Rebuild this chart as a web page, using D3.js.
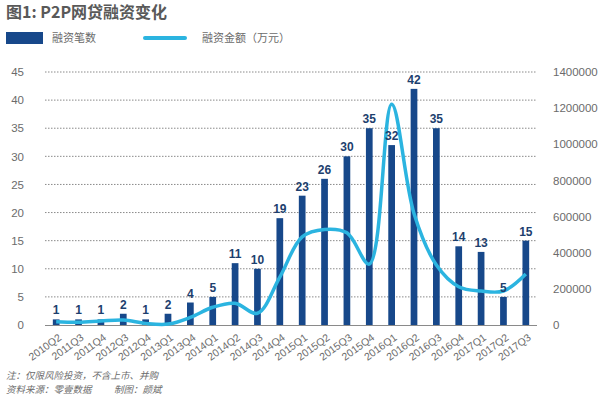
<!DOCTYPE html>
<html>
<head>
<meta charset="utf-8">
<script src="https://cdn.jsdelivr.net/npm/d3@7"></script>
<style>
  body { margin: 0; background: #fff; }
  svg { display: block; }
</style>
</head>
<body>
<svg id="chart" width="600" height="397"></svg>
<script>
// data
var quarters = ["2010Q2", "2011Q3", "2011Q4", "2012Q3", "2012Q4", "2013Q1", "2013Q4",
                "2014Q1", "2014Q2", "2014Q3", "2014Q4", "2015Q1", "2015Q2", "2015Q3",
                "2015Q4", "2016Q1", "2016Q2", "2016Q3", "2016Q4", "2017Q1", "2017Q2", "2017Q3"];
var dealCounts = [1, 1, 1, 2, 1, 2, 4, 5, 11, 10, 19, 23, 26, 30, 35, 32, 42, 35, 14, 13, 5, 15];
var dealAmounts = [18000, 15000, 22000, 28000, 9000, 5000, 42000, 98000, 120000, 65000,
                   265000, 488000, 529000, 510000, 337000, 1221000, 617000, 332000,
                   212000, 188000, 188000, 282000];
var leftTicks = [0, 5, 10, 15, 20, 25, 30, 35, 40, 45];
var rightTicks = [0, 200000, 400000, 600000, 800000, 1000000, 1200000, 1400000];

// options
var barColor = "#17488a";
var lineColor = "#2bb4e0";
var textGray = "#6b6b6b";
var numFont = "'Liberation Sans', Arial, 'Noto Sans CJK SC', sans-serif";
var cjkFont = "'Noto Sans CJK SC', 'Liberation Sans', sans-serif";
var plot = { left: 45, right: 537, top: 72, bottom: 325 };

var svg = d3.select("#chart");

var x = d3.scaleBand()
    .domain(quarters)
    .range([plot.left, plot.right])
    .paddingInner(0.7)
    .paddingOuter(0.35);

var yLeft = d3.scaleLinear().domain([0, 45]).range([plot.bottom, plot.top]);
var yRight = d3.scaleLinear().domain([0, 1400000]).range([plot.bottom, plot.top]);

var rows = quarters.map(function(q, i) {
  return { q: q, n: dealCounts[i], amt: dealAmounts[i] };
});

// title
svg.append("text")
    .attr("x", 6).attr("y", 18)
    .style("font-family", cjkFont)
    .style("font-weight", "bold")
    .style("font-size", "16px")
    .style("fill", "#595959")
    .text("图1: P2P网贷融资变化");

// legend
svg.append("rect")
    .attr("x", 6).attr("y", 32).attr("width", 37).attr("height", 12)
    .style("fill", barColor);
svg.append("text")
    .attr("x", 52).attr("y", 42)
    .style("font-family", cjkFont).style("font-size", "11px").style("fill", textGray)
    .text("融资笔数");
svg.append("line")
    .attr("x1", 145).attr("x2", 185).attr("y1", 38).attr("y2", 38)
    .style("stroke", lineColor).style("stroke-width", 4).style("stroke-linecap", "round");
svg.append("text")
    .attr("x", 202).attr("y", 42)
    .style("font-family", cjkFont).style("font-size", "11px").style("fill", textGray)
    .text("融资金额（万元）");

// dotted gridlines
svg.append("g")
  .selectAll("line")
  .data(leftTicks.filter(function(d) { return d > 0; }))
  .join("line")
    .attr("x1", plot.left).attr("x2", plot.right)
    .attr("y1", function(d) { return yLeft(d); })
    .attr("y2", function(d) { return yLeft(d); })
    .style("stroke", "#8a8a8a")
    .style("stroke-width", 1)
    .style("stroke-dasharray", "1.5,1.5");

// left axis
var leftAxis = svg.append("g")
    .attr("transform", "translate(" + (plot.left - 21) + ",0)")
    .call(d3.axisLeft(yLeft).tickValues(leftTicks).tickSize(0).tickPadding(0));
leftAxis.select(".domain").remove();
leftAxis.selectAll("text")
    .style("font-family", numFont).style("font-size", "11.5px").style("fill", textGray);

// right axis
var rightAxis = svg.append("g")
    .attr("transform", "translate(" + (plot.right + 16) + ",0)")
    .call(d3.axisRight(yRight).tickValues(rightTicks).tickFormat(d3.format("d")).tickSize(0).tickPadding(0));
rightAxis.select(".domain").remove();
rightAxis.selectAll("text")
    .style("font-family", numFont).style("font-size", "11.5px").style("fill", textGray);

// bars
svg.append("g")
  .selectAll("rect")
  .data(rows)
  .join("rect")
    .attr("x", function(d) { return x(d.q); })
    .attr("y", function(d) { return yLeft(d.n); })
    .attr("width", x.bandwidth())
    .attr("height", function(d) { return yLeft(0) - yLeft(d.n); })
    .style("fill", barColor);

// baseline
svg.append("line")
    .attr("x1", plot.left).attr("x2", plot.right)
    .attr("y1", plot.bottom + 0.5).attr("y2", plot.bottom + 0.5)
    .style("stroke", "#8a8a8a").style("stroke-width", 1);

// amount line
var line = d3.line()
    .x(function(d) { return x(d.q) + x.bandwidth() / 2; })
    .y(function(d) { return yRight(d.amt); })
    .curve(d3.curveCatmullRom.alpha(0.5));

svg.append("path")
    .datum(rows)
    .attr("d", line)
    .style("fill", "none")
    .style("stroke", lineColor)
    .style("stroke-width", 3.5)
    .style("stroke-linejoin", "round");

// bar value labels
svg.append("g")
  .selectAll("text")
  .data(rows)
  .join("text")
    .attr("x", function(d) { return x(d.q) + x.bandwidth() / 2; })
    .attr("y", function(d) { return yLeft(d.n) - 5; })
    .attr("text-anchor", "middle")
    .style("font-family", numFont)
    .style("font-weight", "bold")
    .style("font-size", "12px")
    .style("fill", "#1d3f6e")
    .text(function(d) { return d.n; });

// x labels
svg.append("g")
  .selectAll("text")
  .data(quarters)
  .join("text")
    .attr("transform", function(d) {
      return "translate(" + (x(d) + x.bandwidth() / 2 + 6) + "," + (plot.bottom + 14) + ") rotate(-36)";
    })
    .attr("text-anchor", "end")
    .style("font-family", numFont)
    .style("font-size", "10.5px")
    .style("fill", textGray)
    .text(function(d) { return d; });

// footnotes
var notes = svg.append("g")
    .style("font-family", cjkFont).style("font-size", "9.5px").style("font-style", "italic")
    .style("fill", textGray);
notes.append("text").attr("x", 6).attr("y", 379).text("注：仅限风险投资，不含上市、并购");
notes.append("text").attr("x", 6).attr("y", 393).text("资料来源：零壹数据");
notes.append("text").attr("x", 114).attr("y", 393).text("制图：颜斌");
</script>
</body>
</html>
